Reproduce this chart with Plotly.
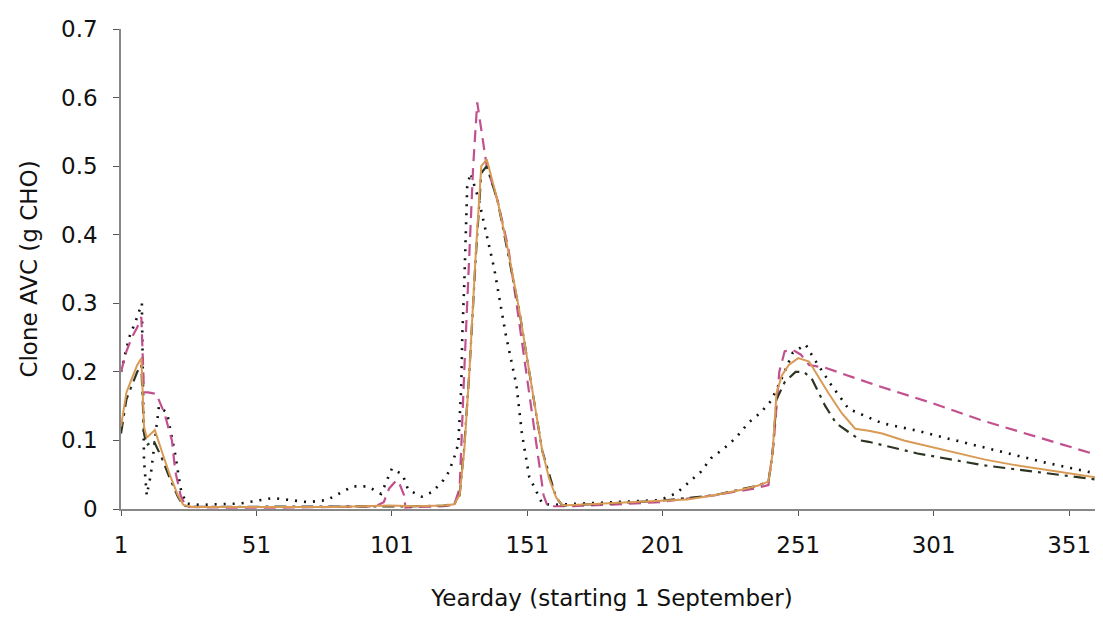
import plotly.graph_objects as go

# ---- data ----
tick_vals = [1, 51, 101, 151, 201, 251, 301, 351]
tick_text = ["1", "51", "101", "151", "201", "251", "301", "351"]

days_orange = [1, 3, 5, 7, 8.5, 9.5, 10.5, 12, 13.5, 16, 19, 22, 24, 27, 40, 60, 80, 100,
               110, 120, 124, 126, 127.7, 129.6, 132, 134, 136, 140, 144, 148, 151.7,
               154, 156.5, 159, 161.6, 164, 170, 180, 190, 200, 210, 220, 230, 236, 240,
               241.5, 243, 245, 247.5, 251, 255, 258, 262, 267, 272, 277, 282, 290, 306,
               320, 331, 345, 363]
vals_orange = [0.12, 0.17, 0.19, 0.21, 0.22, 0.12, 0.104, 0.11, 0.115, 0.085, 0.05, 0.02,
               0.006, 0.003, 0.003, 0.004, 0.003, 0.005, 0.004, 0.005, 0.007, 0.02, 0.085,
               0.2, 0.375, 0.5, 0.51, 0.45, 0.375, 0.29, 0.2, 0.14, 0.085, 0.045, 0.017,
               0.005, 0.006, 0.008, 0.01, 0.012, 0.014, 0.02, 0.028, 0.034, 0.04, 0.08, 0.17,
               0.195, 0.21, 0.22, 0.215, 0.195, 0.17, 0.14, 0.117, 0.114, 0.11, 0.1, 0.085,
               0.072, 0.064, 0.056, 0.045]

days_pink = [1, 3, 5, 7, 8.5, 9.5, 11, 14, 17, 19.8, 21, 23, 25, 40, 60, 80, 95, 98, 100,
             102.7, 104, 105.5, 106, 110, 120, 124, 126, 127.7, 129.6, 131, 132.5, 134,
             136, 140, 144, 147, 150.6, 154.6, 157, 158.5, 165, 180, 200, 220, 235, 240,
             242, 244, 246, 249, 252, 255, 261, 280, 300, 319, 340, 362]
vals_pink = [0.2, 0.23, 0.25, 0.265, 0.28, 0.17, 0.17, 0.168, 0.14, 0.1, 0.056, 0.02, 0.003,
             0.002, 0.002, 0.003, 0.004, 0.01, 0.03, 0.042, 0.035, 0.02, 0.002, 0.003,
             0.004, 0.006, 0.03, 0.2, 0.375, 0.5, 0.593, 0.55, 0.5, 0.45, 0.38, 0.3, 0.2,
             0.085, 0.02, 0.004, 0.004, 0.006, 0.01, 0.02, 0.03, 0.035, 0.1, 0.2, 0.23,
             0.232, 0.225, 0.21, 0.206, 0.18, 0.155, 0.129, 0.104, 0.078]

days_dot = [1, 4, 7, 8.7, 9.5, 10.5, 12, 15, 18, 21, 23, 25, 30, 45, 57, 70, 77, 82, 86.5,
            92, 97, 99, 101, 105, 107, 112, 116, 120, 122, 124, 125.5, 126.6, 127,
            127.7, 128.3, 128.8, 130, 133, 138.8, 143, 147, 149, 151.7, 156.5, 160, 170,
            185, 200, 206, 210.6, 215, 218.8, 223.5, 228, 232.7, 237, 241, 244.5, 249,
            253.7, 256.7, 263, 269.6, 282, 294, 306, 319, 331, 343, 363]
vals_dot = [0.2, 0.25, 0.28, 0.3, 0.07, 0.02, 0.05, 0.15, 0.14, 0.08, 0.03, 0.008, 0.006,
            0.008, 0.016, 0.01, 0.013, 0.023, 0.033, 0.033, 0.022, 0.04, 0.059, 0.05,
            0.028, 0.018, 0.025, 0.042, 0.054, 0.075, 0.095, 0.177, 0.255, 0.327, 0.394,
            0.47, 0.49, 0.452, 0.35, 0.255, 0.18, 0.11, 0.047, 0.008, 0.006, 0.008, 0.01,
            0.013, 0.023, 0.039, 0.054, 0.074, 0.088, 0.104, 0.126, 0.14, 0.158, 0.187,
            0.228, 0.24, 0.22, 0.182, 0.146, 0.125, 0.115, 0.103, 0.09, 0.078, 0.067, 0.05]

days_dashdot = [1, 3, 5, 7, 8.5, 9.5, 10.5, 13, 16, 19, 22, 24, 27, 40, 60, 80, 100, 110,
                120, 124, 126, 127, 127.7, 129.6, 132, 134, 136, 140, 144, 148, 151.7,
                156.5, 161.6, 164, 180, 200, 220, 236, 240, 241.5, 243, 246, 250, 253, 256,
                261, 265, 274, 277, 295, 319, 340, 363]
vals_dashdot = [0.11, 0.16, 0.18, 0.2, 0.21, 0.11, 0.093, 0.1, 0.075, 0.045, 0.018, 0.005,
                0.003, 0.003, 0.004, 0.003, 0.004, 0.004, 0.005, 0.007, 0.02, 0.06, 0.09,
                0.2, 0.37, 0.49, 0.5, 0.45, 0.37, 0.29, 0.2, 0.085, 0.017, 0.005, 0.008,
                0.012, 0.02, 0.034, 0.04, 0.08, 0.16, 0.185, 0.2, 0.2, 0.19, 0.15, 0.125,
                0.1, 0.098, 0.081, 0.064, 0.053, 0.042]

fig = go.Figure()
fig.add_trace(go.Scatter(x=days_dot, y=vals_dot, mode="lines",
                         line=dict(color="#111111", width=2.6, dash="2px,7px")))
fig.add_trace(go.Scatter(x=days_pink, y=vals_pink, mode="lines",
                         line=dict(color="#c2508e", width=2.2, dash="12px,7px")))
fig.add_trace(go.Scatter(x=days_dashdot, y=vals_dashdot, mode="lines",
                         line=dict(color="#2c3522", width=2.2, dash="12px,6px,3px,6px")))
fig.add_trace(go.Scatter(x=days_orange, y=vals_orange, mode="lines",
                         line=dict(color="#d99a55", width=2)))

font = "DejaVu Sans, Verdana, sans-serif"
fig.update_layout(
    width=1103, height=618,
    margin=dict(l=113, r=8, t=18, b=117),
    paper_bgcolor="white", plot_bgcolor="white",
    showlegend=False,
    font=dict(family=font, size=23, color="#111111"),
    xaxis=dict(range=[1, 363.5], tickvals=tick_vals, ticktext=tick_text,
               showgrid=False, zeroline=False, showline=True, linecolor="#888888",
               linewidth=1.5, ticks="outside", ticklen=5, tickcolor="#555555",
               ticklabelstandoff=10, tickfont=dict(size=23),
               title=dict(text="Yearday (starting 1 September)", standoff=33,
                          font=dict(size=23))),
    yaxis=dict(range=[0, 0.7], dtick=0.1, tick0=0, showgrid=False, zeroline=False,
               showline=True, linecolor="#888888", linewidth=1.5, ticks="outside",
               ticklen=6, tickcolor="#555555", ticklabelstandoff=11, tickfont=dict(size=23),
               title=dict(text="Clone AVC (g CHO)", standoff=17, font=dict(size=23))),
)

fig.write_html("out.html")
